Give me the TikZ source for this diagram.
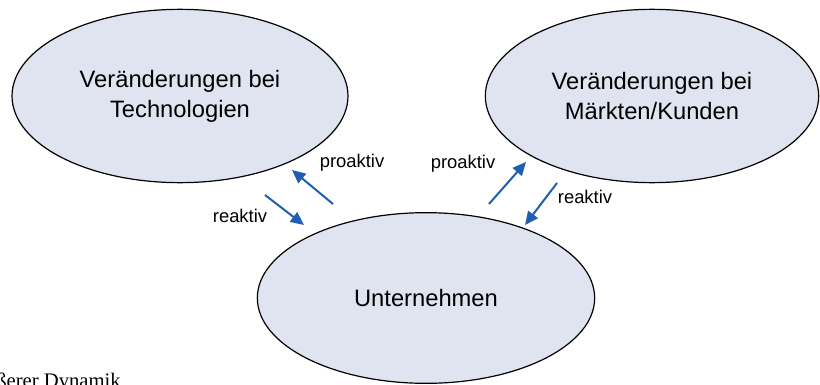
\documentclass[tikz,border=0pt]{standalone}
\usepackage{fontspec}
\setmainfont{Liberation Sans}
\newfontfamily\capfont{Liberation Serif}
\usetikzlibrary{shapes.geometric,arrows.meta}
\definecolor{ellfill}{HTML}{E0E4F1}
\definecolor{arrblue}{HTML}{1F5FAF}
\tikzset{
  ell/.style={ellipse, draw=black, line width=0.9pt, fill=ellfill, align=center,
    font=\fontsize{17.8}{22.5}\selectfont},
  lbl/.style={font=\fontsize{13.8}{16}\selectfont, inner sep=0pt},
  arr/.style={draw=arrblue, line width=1.5pt, -{Triangle[length=10pt,width=9pt]}}
}
\begin{document}
\begin{tikzpicture}[x=0.75pt,y=-0.75pt]
\useasboundingbox (0,0) rectangle (820,385);
\path[fill=white] (0,0) rectangle (820,385);
\node[ell, minimum width=252pt, minimum height=130pt, inner sep=0pt] (tech) at (180,96) {Veränderungen bei\\Technologien};
\node[ell, minimum width=250pt, minimum height=130pt, inner sep=0pt] (markt) at (652,96) {Veränderungen bei\\Märkten/Kunden};
\node[ell, minimum width=253pt, minimum height=128pt, inner sep=0pt] (unt) at (426,298) {Unternehmen};
\coordinate (lp1) at (333,204); \coordinate (lp2) at (292,170);
\coordinate (lr1) at (265,195); \coordinate (lr2) at (304,225);
\coordinate (rp1) at (489,204); \coordinate (rp2) at (526,162);
\coordinate (rr1) at (557,183); \coordinate (rr2) at (525,225);
\draw[arr] (lp1) -- (lp2);
\draw[arr] (lr1) -- (lr2);
\draw[arr] (rp1) -- (rp2);
\draw[arr] (rr1) -- (rr2);
\node[lbl] (lpl) at (352,163) {proaktiv};
\node[lbl] (lrl) at (240,216) {reaktiv};
\node[lbl] (rpl) at (463,164) {proaktiv};
\node[lbl] (rrl) at (585,197) {reaktiv};
\node[anchor=base west, inner sep=0pt, font=\capfont\fontsize{15.5}{16}\selectfont] (cap) at (-4,387) {ßerer Dynamik};
\end{tikzpicture}
\end{document}
